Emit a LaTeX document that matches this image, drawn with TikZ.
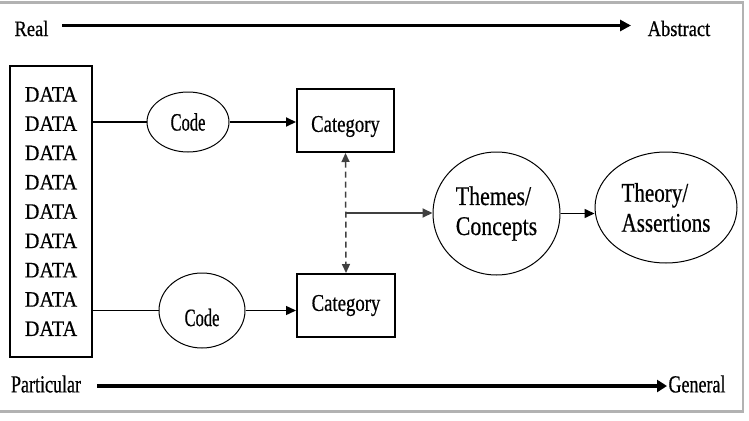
\documentclass[tikz,border=0pt]{standalone}
\usepackage{fontspec}
\setmainfont{Liberation Serif}
\newfontfamily\fsA[FakeStretch=0.84,FakeBold=0.5]{Liberation Serif}
\newfontfamily\fsB[FakeStretch=0.735,FakeBold=0.5]{Liberation Serif}
\newfontfamily\fsC[FakeStretch=0.66,FakeBold=0.5]{Liberation Serif}
\newfontfamily\fsD[FakeStretch=0.92,FakeBold=0.5]{Liberation Serif}
\newfontfamily\fsE[FakeStretch=0.78,FakeBold=0.5]{Liberation Serif}
\newfontfamily\fsF[FakeStretch=0.81,FakeBold=0.5]{Liberation Serif}
\usetikzlibrary{arrows.meta,shapes.geometric,calc}
\begin{document}
\begin{tikzpicture}[x=1pt,y=-1pt,
  lbltop/.style={inner sep=0pt,font=\fsA\fontsize{22}{26}\selectfont},
  lblbot/.style={inner sep=0pt,font=\fsB\fontsize{24.5}{28}\selectfont},
  databox/.style={draw,line width=2pt,rectangle,inner sep=0pt,minimum width=82pt,minimum height=291pt,align=center,font=\fsD\fontsize{22}{29.3}\selectfont},
  codeell/.style={draw,line width=1pt,ellipse,inner sep=0pt},
  codefont/.style={font=\fsC\fontsize{25}{28}\selectfont},
  catbox/.style={draw,line width=2pt,rectangle,inner sep=0pt},
  catfont/.style={font=\fsE\fontsize{24}{28}\selectfont},
  bigell/.style={draw,line width=1pt,ellipse,inner sep=0pt,align=left},
  tip/.style={-{Triangle[length=10pt,width=9pt]}},
  dtip/.style={{Triangle[length=9pt,width=8pt]}-{Triangle[length=9pt,width=8pt]}},
]
\useasboundingbox (0,0) rectangle (749,420);
% frame
\draw[line width=2.2pt,color=black!30] (0,2.5) -- (743,2.5) -- (743,411.5) -- (0,411.5);

% axis labels
\node[lbltop] (real) at (31.5,28.5) {Real};
\node[lbltop] (abstract) at (679,28.5) {Abstract};
\node[lblbot] (particular) at (46,384) {Particular};
\node[lblbot] (general) at (697,384) {General};
\coordinate (ta) at (62,25.5);
\coordinate (tb) at (631,25.5);
\coordinate (ba) at (97,386);
\coordinate (bb) at (667,386);
\draw[line width=3pt,-{Triangle[length=11pt,width=11pt]}] (ta) -- (tb);
\draw[line width=4pt,-{Triangle[length=10pt,width=12pt]}] (ba) -- (bb);

% data
\node[databox] (data) at (51,211.5) {DATA\\DATA\\DATA\\DATA\\DATA\\DATA\\DATA\\DATA\\DATA};

% codes
\node[codeell,codefont,minimum width=82pt,minimum height=60pt] (code1) at (188,122) {Code};
\node[codeell,minimum width=86pt,minimum height=75pt,
  label={[codefont,inner sep=0pt,yshift=-7pt]center:Code}] (code2) at (202,310.5) {};

% categories
\node[catbox,minimum width=97pt,minimum height=63pt,
  label={[catfont,inner sep=0pt,yshift=-6pt]center:Category}] (cat1) at (345.5,120.5) {};
\node[catbox,catfont,minimum width=98pt,minimum height=63pt] (cat2) at (346,305.5) {Category};

% themes / theory
\node[bigell,minimum width=127pt,minimum height=123pt,font=\fsF\fontsize{27}{30}\selectfont] (themes) at (496.5,213.5) {Themes/\\Concepts};
\node[bigell,minimum width=142pt,minimum height=111pt,font=\fsE\fontsize{27}{30}\selectfont] (theory) at (666,207.5) {Theory/\\Assertions};

% connectors
\draw[line width=2pt] (data.east |- code1) -- (code1.west);
\draw[line width=2pt,tip] (code1.east) -- (code1.east -| cat1.west);
\draw[line width=1.2pt] (data.east |- code2) -- (code2.west);
\draw[line width=1.4pt,tip] (code2.east) -- (code2.east -| cat2.west);
\draw[line width=1.5pt,dashed,dash pattern=on 6pt off 4pt,color=black!75,dtip] (cat1.south) -- (cat2.north);
\coordinate (mid) at ($(cat1.south)!0.5!(cat2.north)$);
\draw[line width=2pt,color=black!75,tip] (mid) -- (mid -| themes.west);
\draw[line width=1.5pt,tip] (themes.east) -- (themes.east -| theory.west);
\end{tikzpicture}
\end{document}
